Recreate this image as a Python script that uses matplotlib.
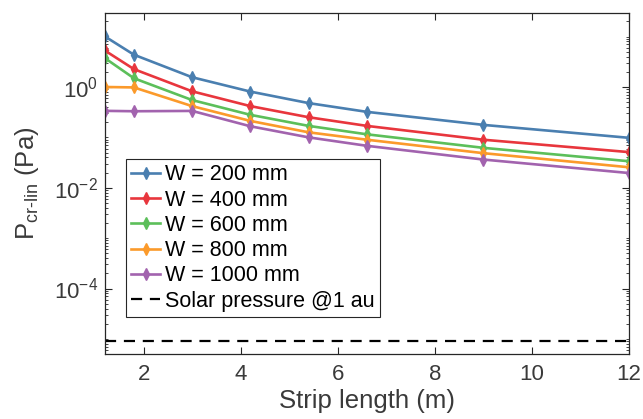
import matplotlib
matplotlib.use("Agg")
from matplotlib import pyplot as plt
from matplotlib.ticker import LogLocator, NullFormatter

plt.rcParams["font.family"] = ["Liberation Sans", "DejaVu Sans"]
plt.rcParams["mathtext.fontset"] = "custom"
plt.rcParams["mathtext.rm"] = "Liberation Sans"
plt.rcParams["mathtext.it"] = "Liberation Sans:italic"

# strip length (m)
strip_length = [1.2, 1.8, 3.0, 4.2, 5.4, 6.6, 9.0, 12.0]

# critical pressure (Pa) per strip width
p_200 = [10.1, 4.37, 1.56, 0.81, 0.479, 0.321, 0.177, 0.098]
p_400 = [5.3, 2.26, 0.82, 0.417, 0.251, 0.169, 0.0898, 0.051]
p_600 = [3.75, 1.49, 0.55, 0.28, 0.169, 0.115, 0.062, 0.0336]
p_800 = [1.0, 0.98, 0.417, 0.212, 0.126, 0.0898, 0.0486, 0.0255]
p_1000 = [0.336, 0.33, 0.335, 0.166, 0.10, 0.068, 0.0363, 0.0196]

labels = ["W = 200 mm", "W = 400 mm", "W = 600 mm", "W = 800 mm", "W = 1000 mm"]
colors = ["#4a7fb0", "#e8363d", "#5cbf5a", "#fb9a2b", "#a263ae"]

solar_pressure = 9.1e-6

fig = plt.figure(figsize=(6.43, 4.19), dpi=100)
ax = fig.add_axes([0.163, 0.155, 0.815, 0.815])

for p, lab, c in zip([p_200, p_400, p_600, p_800, p_1000], labels, colors):
    ax.plot(strip_length, p, "-d", color=c, lw=1.9, ms=5.8, label=lab)

ax.plot([strip_length[0], strip_length[-1]], [solar_pressure, solar_pressure],
        "--", color="black", lw=1.6, dashes=(5, 3.5), label="Solar pressure @1 au")

ax.set_yscale("log")
ax.set_xlim(1.2, 12)
ax.set_ylim(5e-6, 30)
ax.set_xticks([2, 4, 6, 8, 10, 12])
ax.set_yticks([1e-4, 1e-2, 1e0])
ax.yaxis.set_minor_locator(LogLocator(base=10, subs=range(1, 10), numticks=30))
ax.yaxis.set_minor_formatter(NullFormatter())

ax.tick_params(which="both", direction="in", top=True, right=True,
               colors="#262626", labelcolor="#3a3a3a")
ax.tick_params(which="major", length=5, width=0.8, labelsize=16)
ax.tick_params(axis="x", which="major", pad=7)
ax.tick_params(axis="y", which="major", pad=5)
ax.tick_params(which="minor", length=2.5, width=0.6)
for s in ax.spines.values():
    s.set_color("#262626")
    s.set_linewidth(0.9)

ax.set_xlabel("Strip length (m)", fontsize=18.5, color="#3a3a3a", labelpad=3)
ax.set_ylabel(r"P$_{\mathrm{cr\text{-}lin}}$ (Pa)", fontsize=18.5, color="#3a3a3a", labelpad=9)

leg = ax.legend(loc="lower left", bbox_to_anchor=(0.04, 0.108), fontsize=15.5,
                frameon=True, fancybox=False, framealpha=1, edgecolor="#262626",
                borderpad=0.25, labelspacing=0.2, handlelength=1.35,
                handletextpad=0.2, borderaxespad=0)
leg.get_frame().set_linewidth(0.8)

fig.savefig("out.png", dpi=100)
